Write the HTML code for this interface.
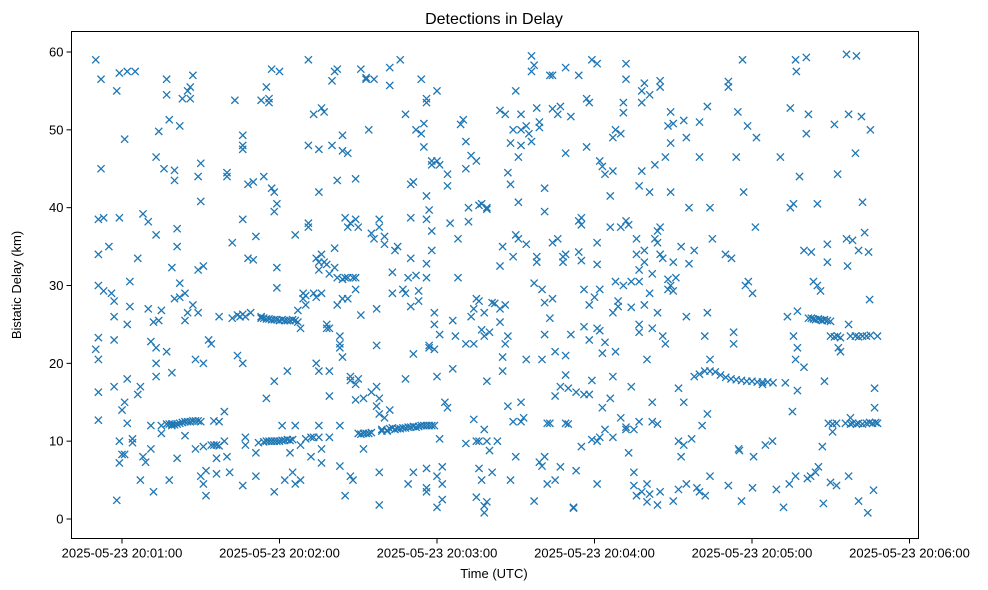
<!DOCTYPE html>
<html><head><meta charset="utf-8">
<style>
html,body{margin:0;padding:0;background:#fff;}
svg{display:block;font-family:"Liberation Sans",sans-serif;}
</style></head>
<body>
<svg id="chart" width="988" height="590" viewBox="0 0 988 590">
<rect x="0" y="0" width="988" height="590" fill="#fff"/>
<text x="494" y="24" text-anchor="middle" font-size="16" fill="#000">Detections in Delay</text>
<g id="marks"></g>
<g id="axes"></g>
<rect x="71.5" y="31.5" width="847" height="507" fill="none" stroke="#000" stroke-width="1"/>
<text x="494" y="578" text-anchor="middle" font-size="13" fill="#000">Time (UTC)</text>
<text x="21" y="285" text-anchor="middle" font-size="13" fill="#000" transform="rotate(-90 21 285)">Bistatic Delay (km)</text>
</svg>
<script>
// seconds after 20:00:00
const xTickValues = [60,120,180,240,300,360];
const xTickLabels = ["2025-05-23 20:01:00","2025-05-23 20:02:00","2025-05-23 20:03:00","2025-05-23 20:04:00","2025-05-23 20:05:00","2025-05-23 20:06:00"];
const yTickValues = [0,10,20,30,40,50,60];
const yTickLabels = ["0","10","20","30","40","50","60"];
// [time_s, delay_km]
const detections = [
[50,59],[52,56.5],[52,45],[51,38.5],[53,38.7],[51,34],[51,30],[53,29.3],[51,23.3],[50,21.8],[51,20.5],[51,16.3],[51,12.7],
[55,35],[56,29],[57,28],[57,26],[57,23],[57,17],[58,55],[59,57.3],[59,38.7],[59,10],[58,2.4],[59,7.2],[60,8.3],[61,8.3],[61,15],[60,14],[62,57.5],[62,18],[62,12.3],[62,25],[63,30.5],[63,27.3],[61,48.8],
[64,10.3],[64,9.8],[65,57.5],[66,33.5],[66,16],[67,17],[67,5],[68,8],[68,39.2],[69,7.3],[70,27],[70,38.2],[71,12],[71,22.8],[71,9],[72,3.5],[72,25.3],[73,46.5],[73,22],[73,20],[73,18.3],[73,36.5],[74,49.8],[74,25.5],
[75,11],[75,26.8],[76,45],[77,21.5],[77,54.5],[77,56.5],[78,51.3],[78,5],[79,18.8],[79,12],[79,32.3],[80,44.8],[80,28.3],[80,43.5],[81,35],[81,37.3],[81,7.8],[82,50.5],[82,28.5],[82,30.3],
[75,12],[77,12.2],[78,12.2],[79,12.2],[80,12.1],[81,12.2],[82,12.3],[83,12.4],[84,12.5],[85,12.5],[86,12.5],[87,12.6],[88,12.6],[89,12.6],[90,12.5],
[83,54],[84,29],[84,25.5],[84,10.7],[85,26.5],[85,55],[86,54],[86,55.5],[87,57],[87,27.5],[88,9],[88,20.5],[89,44],[89,26.5],[89,32],[90,45.7],[90,40.8],[90,5.5],[91,4.5],[91,32.5],[91,20],[91,9.3],[92,6.2],[92,3],[93,23],[94,22.5],[94,9.5],[95,9.5],[96,9.5],[96,7.8],[97,9.4],[97,12.5],[95,12.6],[96,5.8],[97,26],
[99,10],[99,13.8],[100,44.5],[100,44],[100,8],[101,6],[102,35.5],[102,25.8],[103,53.8],[104,21],[104,26.2],[105,26],[106,49.3],[106,48],[106,47.5],[106,38.5],[106,26.3],[106,20],[106,4.3],[107,26],[107,10.5],[107,9.5],[108,43],[108,33.5],[109,26.5],[110,43.3],[110,33.3],[111,5.5],[111,36.3],[111,8.5],[112,9.8],[113,26],
[113,25.8],[114,25.8],[115,25.7],[116,25.7],[117,25.6],[118,25.6],[119,25.6],[120,25.5],[121,25.6],[122,25.5],[123,25.5],[124,25.5],[125,25.6],[126,25.5],
[114,9.9],[115,10],[116,10],[117,10],[118,10],[119,10],[120,10],[121,10.1],[122,10.1],[123,10.2],[124,10.1],[125,10.2],
[113,53.8],[114,44],[115,15.5],[115,55.5],[116,53.5],[116,54],[117,57.8],[117,42.5],[118,42],[118,39.5],[118,3.5],[118,17.7],[119,40.5],[119,32.3],[119,29.7],[120,57.5],[121,12],[122,5],[123,19],[124,8.5],[125,6],[126,4.5],[126,12],[127,25.3],[127,26.8],[128,5],[128,9.5],[128,24.5],[126,36.5],
[129,28.3],[129,29],[130,28.7],[130,10.3],[130,27.5],[131,59],[131,38],[131,37.5],[131,48],[132,10.5],[132,8],[133,29],[133,10.5],[133,52],[134,33.5],[134,20],[134,28.5],[135,33],[135,19],[135,47.5],[135,42],[135,32],[135,12],[135,10.5],[136,7.2],[136,34],[136,29],[136,9],[136,52.8],[137,52.3],[137,33],[138,25],[138,24.5],[138,32.7],[139,31.5],[139,24.5],[139,19],[139,15.8],[139,10.5],[140,48],[140,56.3],[141,57.5],[141,32.3],[141,34.8],[142,43.5],[142,57.8],[142,31],[142,27.5],[143,12],[143,6.8],[143,23.5],[143,22],[143,22.5],[144,47.3],[144,49.3],[144,30.8],[144,28.3],[144,20.8],[145,3],[145,38.7],[145,31],[146,47],[146,37.5],[146,31],[146,28.3],[147,38],[147,17.8],[147,18.3],[147,5.5],[148,31],[148,5],[149,43.7],[149,38.5],[149,31],[149,29.5],[149,17.3],[149,15.3],
[150,11],[151,10.9],[152,11],[153,11],[154,11],[155,11.1],
[150,37.5],[150,18],[151,57.8],[151,26.2],[152,15.5],[152,9],[153,56.5],[153,56.7],[154,50],[155,36.7],[155,16.3],[156,36],[156,56.5],[157,22.3],[157,27],[157,17],[157,14.5],[158,37.5],[158,38.5],[158,15.5],[158,13.5],[158,6],[158,1.8],[159,11.3],[159,11.5],[160,13],[160,36.3],[160,35.3],[161,11.3],[161,11.4],[162,14],[162,55.7],[162,58],[162,11.6],[163,11.7],[163,31.7],[163,29],[164,11.5],[164,34.5],[165,11.6],[165,35],[166,59],
[166,11.6],[167,11.7],[168,11.7],[169,11.8],[170,11.8],[171,11.9],[172,11.8],[173,11.9],[174,12],[175,12],[176,12],[177,12],[178,12],[179,12],
[167,29.5],[168,29],[168,18],[168,52],[169,4.5],[169,31],[170,43],[170,38.7],[170,33.5],[170,27.3],[171,21.2],[171,43.3],[171,6],[172,31.3],[172,50],[173,29.3],[173,28],[174,49.5],[174,56.5],[175,47.8],[175,50.8],[176,53.5],[176,54],[176,41.5],[176,38.5],[176,31],[176,32.8],[176,6.5],[176,4],[176,3.5],[177,22],[177,22.3],[177,39.7],[178,37],[178,34.5],[178,45.5],[178,46],[179,26.5],[179,25],[179,21.8],[180,55],[180,46],[180,18.3],[180,5.5],[180,1.5],[181,45.5],[181,23.7],[181,10.3],
[182,4.5],[182,6.7],[182,2.5],[183,15],[184,14.3],[184,42.8],[184,44.3],[185,38],[186,19.3],[186,25.5],[187,23.5],[188,36],[188,31],[189,50.7],[190,51.3],[191,48.5],[191,45],[191,9.7],[191,22.5],[192,40],[192,38.2],[193,46.7],[193,26],[194,12.8],[194,27],[194,22.5],[195,28.3],[195,10],[195,46],[195,2.8],[196,40.3],[196,28],[196,10],[196,6.5],[197,40.5],[197,24.3],[197,5],[198,1.7],[198,0.8],[198,26.5],[198,11.5],[198,23.5],[199,39.8],[199,40],[199,17.7],[199,10],[199,2.2],[200,24],[200,8.8],[201,27.8],[201,6],[202,27.7],
[203,10],[204,52.5],[204,32.5],[204,25.3],[204,27],[205,20.8],[205,35],[205,19],[206,52],[206,22.5],[206,27.5],[207,44.5],[207,23.5],[207,14.5],[208,5],[208,48.3],[208,43],[209,50],[209,33.7],[209,12.5],[210,55],[210,36.5],[210,8],[211,46.5],[211,40.7],[211,36],[212,52],[212,50],[212,48],[212,15],[212,12.5],[213,13],[214,35.3],[214,50.5],[214,20.5],[215,49.5],[216,48.5],[216,57.5],[216,59.5],[217,58.3],[217,2.3],[217,30.3],[218,33.7],[218,33],[218,52.8],[219,51],[219,50.3],[219,7.3],[220,6.8],[220,20.5],[220,29.5],[221,42.5],[221,27.8],[221,39.5],[221,23.7],[221,8],[222,12.3],[222,4.5],[223,25.8],[223,57],[223,12.3],
[224,57],[224,52.7],[224,35.5],[224,28.3],[225,21.5],[225,15.8],[225,5],[226,36],[226,52],[227,53],[227,6.7],[227,17],[228,33.7],[228,33],[229,47],[229,34],[229,21],[229,18.5],[229,12.3],[229,58],[230,16.8],[230,12.2],[231,23.7],[231,51.7],[232,1.5],[232,1.4],[233,6.2],[233,16.3],[234,34.3],[234,38.3],[234,57],[235,33.2],[235,37.8],[235,38.7],[235,9.3],[236,16],[236,29.5],[236,24.7],[237,47.8],[237,54],[238,53.5],[238,27.5],[238,23],[238,16],[239,59],[239,17.8],[239,10.2],[240,28.5],[241,35.5],[241,32.7],[241,58.5],[241,4.5],[241,10],[241,24.5],[242,46],[242,29.5],[242,10.5],[242,24.2],[243,45.3],[243,21.3],[243,14.3],[244,44.3],[244,11.5],[244,22.7],
[246,41.5],[246,15.5],[246,37.5],[247,26.5],[247,18.3],[247,10.5],[247,49],[247,44.7],[248,50],[248,21.5],[248,30.5],[249,28],[249,27.3],[250,49.5],[250,37.5],[250,13],[251,53.5],[251,52.2],[251,30],[252,58.5],[252,56.5],[252,38.3],[252,11.5],[252,11.8],[253,37.8],[253,8.5],[254,27.2],[254,30.5],[254,17],[255,4.3],[255,11.5],[255,6],[256,34],[256,36],[256,3],[257,32],[257,25],[257,24],[257,42.8],[257,30.5],[257,12.5],[258,53.5],[258,44.7],[258,55],[258,3.5],[259,56],[259,33],[259,34.5],[259,27.5],[260,20.5],[260,2.2],[260,4.5],[261,54.5],[261,29],[261,42],[261,3.2],[262,24.5],[262,31.5],[262,15],[262,12.5],[263,45.5],[263,36],[264,35.5],[264,37],[264,26.5],[264,1.8],[264,12.2],[265,55.5],[265,56.3],[265,37.5],[265,34],[265,3.5],[266,33.5],[266,23.5],
[267,46.5],[267,22.5],[268,29.5],[268,30.8],[268,50.5],[269,52.3],[269,48.3],[269,42],[269,30],[270,33],[270,29.3],[270,50.8],[270,2.3],[271,31],[272,16.8],[272,3.8],[272,10],[273,8],[273,35],[274,51.2],[274,15],[274,9.5],[275,26],[275,49],[275,4.5],[276,40],[276,32.8],[277,10.3],[278,34.5],[279,4],[280,46.5],[280,51],[280,3.5],[281,12],[282,23.5],[283,26.5],[283,53],[283,13.5],[284,40],[284,5.5],[284,20.5],
[278,18.3],[280,18.6],[282,19],[284,19],[286,18.9],[288,18.5],[290,18.2],[292,18],[294,17.9],[296,17.8],[298,17.7],[300,17.7],[302,17.6],[304,17.6],[306,17.6],[308,17.5],
[282.2,3],[284.9,36],[291,56.2],[291,55.5],[294,46.5],[289.9,34],[292.2,33.5],[293,24],[293,22.5],[294.9,9],[295.2,8.8],[291,4.3],
[296.4,59],[294.6,52.3],[298.3,50.5],[301.7,49],[296.8,42],[301.3,37.5],[297.5,30],[300.2,29],[298.6,30.5],[304,17.3],[305.1,9.5],[300.6,8],[300.2,4],[296,2.3],
[316.6,59],[316.9,57.5],[314.6,52.8],[310.8,46.5],[315.8,40.5],[314.6,40],[319.8,34.5],[313.5,26],[312.7,17.5],[317.3,16.5],[315.4,13.8],[307.8,10],[314.2,4.5],[309.3,3.8],[312,1.5],[316.6,5.5],
[320.7,59.3],[321.5,52],[320.7,49.5],[318.1,44],[324.9,40.5],[328.7,35.3],[322.6,34.3],[324.9,30],[326.1,29.3],[317.3,26.7],[315.8,23.5],[317.3,22],[316.6,20.5],[319.8,19.5],
[321.5,25.8],[322.6,25.8],[323.4,25.7],[324.2,25.6],[325.3,25.7],[326.1,25.6],[326.8,25.5],[327.6,25.6],[328.7,25.5],[329.9,25.4],
[329.9,23.5],[331.4,23.4],[332.6,23.5],[333.7,23.3],[332.9,22],[333.7,21.5],[327.6,17.7],[337.5,13],[329.1,12.3],[330.7,12.2],[332.2,12.3],[330.7,11.2],[326.8,9.3],[325.3,6.7],[322.3,5.5],[321.1,5.2],[329.9,4.7],[332.2,4.3],[327.2,2],[324.2,6],
[336,59.7],[339.8,59.5],[336.8,52],[341.7,51.7],[331.4,50.7],[345.1,50],[339.4,47],[332.6,44.3],[342.1,40.7],[336,36],[338.3,35.8],[340.6,34.5],[344.4,34.3],[342.9,36.8],[336.4,32.5],[328.7,33],[323.4,30.5],[344.8,28.2],
[337.5,23.5],[339.4,23.5],[340.6,23.4],[342.1,23.5],[343.6,23.5],[345.1,23.6],[347.8,23.5],[346.7,16.8],[346.7,14.3],
[335.6,12.3],[337.5,12.2],[338.3,12.3],[339.8,12.2],[340.6,12.3],[342.1,12.2],[343.6,12.3],[344.8,12.4],[345.9,12.3],[347.1,12.4],[347.8,12.3],
[336.8,5.5],[346.3,3.7],[340.6,2.3],[344.1,0.8],[336.8,25]
];

const NS = "http://www.w3.org/2000/svg";
const plotLeft = 71.5, plotRight = 918.5, plotTop = 31.5, plotBottom = 538.5;
function xScale(t){ return 122 + (t - 60) * (787.5 / 300); }
function yScale(d){ return 519 - d * (467 / 60); }

const axes = document.getElementById('axes');
xTickValues.forEach(function(v, i){
  const x = xScale(v);
  const tick = document.createElementNS(NS, 'line');
  tick.setAttribute('x1', x); tick.setAttribute('x2', x);
  tick.setAttribute('y1', plotBottom); tick.setAttribute('y2', plotBottom + 5);
  tick.setAttribute('stroke', '#000');
  
  
  axes.appendChild(tick);
  const lbl = document.createElementNS(NS, 'text');
  lbl.setAttribute('x', x); lbl.setAttribute('y', plotBottom + 19);
  lbl.setAttribute('text-anchor', 'middle');
  lbl.setAttribute('font-size', '13');
  lbl.textContent = xTickLabels[i];
  
  
  axes.appendChild(lbl);
});
yTickValues.forEach(function(v, i){
  const y = yScale(v);
  const tick = document.createElementNS(NS, 'line');
  tick.setAttribute('x1', plotLeft - 5); tick.setAttribute('x2', plotLeft);
  tick.setAttribute('y1', y); tick.setAttribute('y2', y);
  tick.setAttribute('stroke', '#000');
  
  
  axes.appendChild(tick);
  const lbl = document.createElementNS(NS, 'text');
  lbl.setAttribute('x', plotLeft - 8); lbl.setAttribute('y', y + 4.5);
  lbl.setAttribute('text-anchor', 'end');
  lbl.setAttribute('font-size', '13');
  lbl.textContent = yTickLabels[i];
  
  
  axes.appendChild(lbl);
});

const marks = document.getElementById('marks');
const r = 3.6;
detections.forEach(function(p){
  const cx = xScale(p[0]), cy = yScale(p[1]);
  const m = document.createElementNS(NS, 'path');
  m.setAttribute('d', 'M' + (cx - r) + ' ' + (cy - r) + 'L' + (cx + r) + ' ' + (cy + r) + 'M' + (cx - r) + ' ' + (cy + r) + 'L' + (cx + r) + ' ' + (cy - r));
  m.setAttribute('stroke', '#1f77b4');
  m.setAttribute('stroke-width', '1.3');
  m.setAttribute('fill', 'none');
  
  
  marks.appendChild(m);
});
</script>
</body></html>
